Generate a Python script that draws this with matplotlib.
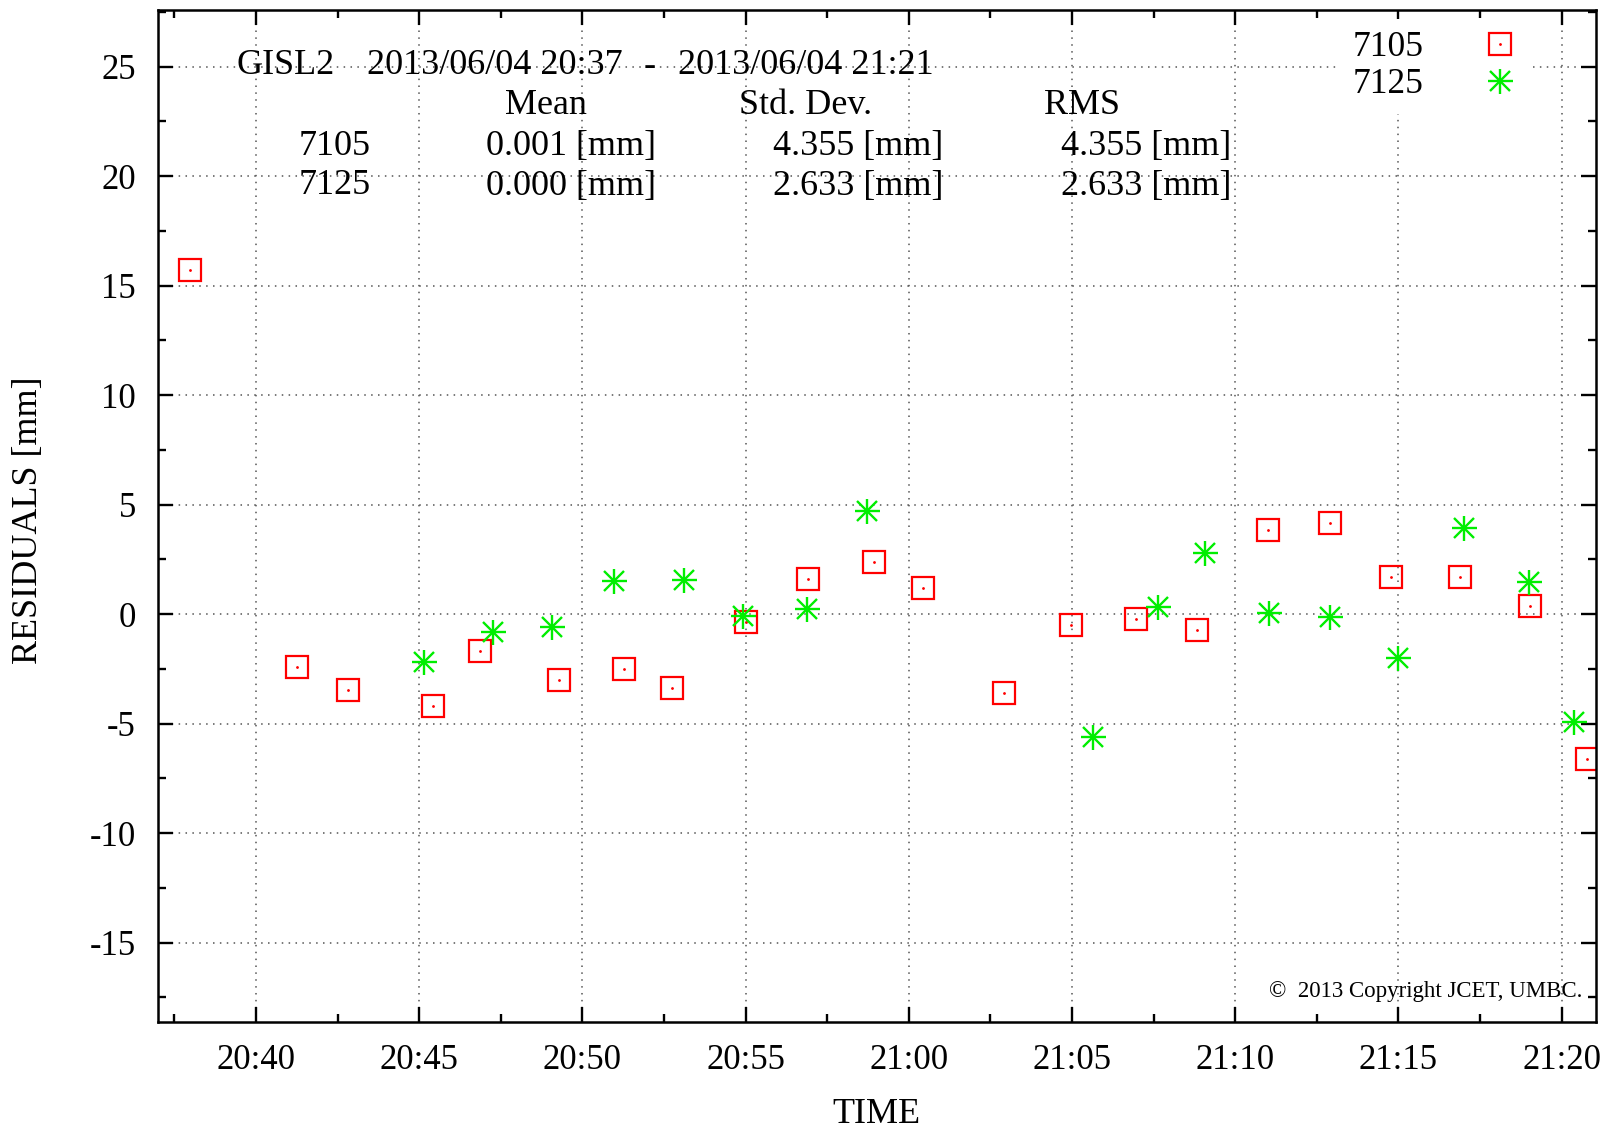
import matplotlib
matplotlib.use("Agg")
from matplotlib import pyplot as plt
from matplotlib.ticker import MultipleLocator, FuncFormatter
from matplotlib.legend_handler import HandlerTuple
import numpy as np

# residuals per station, times are HH:MM:SS
times_7105 = ["20:37:59", "20:41:16", "20:42:50", "20:45:25", "20:46:52", "20:49:17",
              "20:51:17", "20:52:44", "20:55:00", "20:56:55", "20:58:56", "21:00:26",
              "21:02:55", "21:04:58", "21:06:57", "21:08:49", "21:11:00", "21:12:55",
              "21:14:47", "21:16:53", "21:19:02", "21:20:47"]
res_7105 = [15.72, -2.43, -3.46, -4.21, -1.68, -2.99, -2.52, -3.36, -0.36, 1.61, 2.36, 1.18,
            -3.60, -0.50, -0.22, -0.74, 3.86, 4.14, 1.70, 1.70, 0.39, -6.64]

times_7125 = ["20:45:08", "20:47:16", "20:49:05", "20:50:58", "20:53:07", "20:54:56",
              "20:56:52", "20:58:44", "21:05:38", "21:07:38", "21:09:05", "21:11:02",
              "21:12:55", "21:14:59", "21:17:01", "21:18:59", "21:20:23"]
res_7125 = [-2.19, -0.83, -0.60, 1.51, 1.56, -0.08, 0.25, 4.70, -5.61, 0.34, 2.78, 0.06,
            -0.13, -2.00, 3.95, 1.47, -4.91]

stations = ["7105", "7125"]
stats_mean = ["0.001 [mm]", "0.000 [mm]"]
stats_std = ["4.355 [mm]", "2.633 [mm]"]
stats_rms = ["4.355 [mm]", "2.633 [mm]"]


def to_min(ts):
    h, m, s = [int(v) for v in ts.split(":")]
    return (h - 20) * 60 + m + s / 60.0


x1 = np.array([to_min(t) for t in times_7105])
x2 = np.array([to_min(t) for t in times_7125])

plt.rcParams['font.family'] = ['Liberation Serif', 'DejaVu Serif']
W, H = 1610, 1130
fig = plt.figure(figsize=(W / 100, H / 100), dpi=100)
ax = fig.add_axes([158 / W, 1 - 1022 / H, 1438 / W, 1012 / H])

red, green = '#ff0000', '#00ee00'
sq = ax.plot(x1, res_7105, 's', ms=16.5, mfc='none', mec=red, mew=1.6, ls='none')[0]
dt = ax.plot(x1, res_7105, '.', ms=2, color=red, ls='none')[0]
pl = ax.plot(x2, res_7125, '+', ms=18, mec=green, mew=1.7, ls='none')[0]
xx = ax.plot(x2, res_7125, 'x', ms=14, mec=green, mew=1.7, ls='none')[0]

ax.set_xlim(to_min("20:37:00"), to_min("21:21:03"))
ax.set_ylim(-18.63, 27.59)
ax.xaxis.set_major_locator(MultipleLocator(5))
ax.xaxis.set_minor_locator(MultipleLocator(2.5))
ax.yaxis.set_major_locator(MultipleLocator(5))
ax.yaxis.set_minor_locator(MultipleLocator(2.5))
ax.xaxis.set_major_formatter(FuncFormatter(
    lambda v, p: "%d:%02d" % (20 + int(round(v)) // 60, int(round(v)) % 60)))
ax.yaxis.set_major_formatter(FuncFormatter(lambda v, p: "%d" % round(v)))

ax.tick_params(which='both', direction='in', top=True, right=True, width=1.7)
ax.tick_params(which='major', length=11, labelsize=25)
ax.tick_params(which='minor', length=6)
ax.tick_params(axis='y', pad=16)
ax.tick_params(axis='x', pad=16)
for s in ax.spines.values():
    s.set_linewidth(1.8)
ax.grid(True, which='major', color='#555555', ls=(0, (1, 3.5)), lw=1.1)
ax.set_axisbelow(True)

leg = ax.legend([(sq, dt), (pl, xx)], stations, handler_map={tuple: HandlerTuple(ndivide=1)},
                loc='upper right', bbox_to_anchor=(1 - 52 / 1438, 1.0 + 2 / 1012), markerfirst=False,
                frameon=True, fancybox=False, edgecolor='none', facecolor='white', framealpha=1,
                fontsize=25.5, handlelength=1.2, handletextpad=1.55, labelspacing=0.12,
                borderpad=0.35, borderaxespad=0.3)


def ft(x, y, s, **kw):
    kw.setdefault('va', 'center')
    fig.text(x / W, 1 - y / H, s, **kw)


fs = 26
ft(236, 66, "GISL2", fontsize=fs)
ft(367, 66, "2013/06/04 20:37", fontsize=fs)
ft(650, 66, "-", fontsize=fs, ha='center')
ft(678, 66, "2013/06/04 21:21", fontsize=fs)
ft(505, 105, "Mean", fontsize=fs)
ft(739, 105, "Std. Dev.", fontsize=fs)
ft(1044, 105, "RMS", fontsize=fs)
for i, st in enumerate(stations):
    y = 146 + 40 * i
    ft(299, y, st, fontsize=fs)
    ft(486, y, stats_mean[i], fontsize=fs)
    ft(773, y, stats_std[i], fontsize=fs)
    ft(1061, y, stats_rms[i], fontsize=fs)

ft(1582, 992, "\u00a9  2013 Copyright JCET, UMBC.", fontsize=16.5, ha='right')
ft(28, 520, "RESIDUALS [mm]", fontsize=26, rotation=90, ha='center')
ft(876, 1123, "TIME", fontsize=26, ha='center', va='baseline')

fig.savefig("out.png", dpi=100)
